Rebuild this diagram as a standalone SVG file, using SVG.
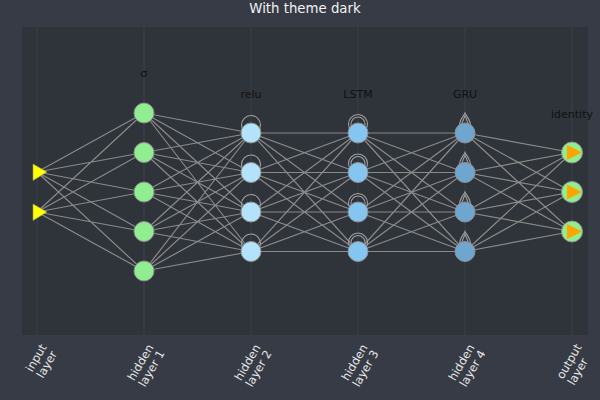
<svg xmlns="http://www.w3.org/2000/svg" xmlns:xlink="http://www.w3.org/1999/xlink" width="600" height="400" viewBox="0 0 600 400">
<style>
.t{font-family:"DejaVu Sans",sans-serif;}
.title{font-size:13.3px;fill:#f2f2f2;text-anchor:middle;}
.lbl{font-size:11px;fill:#111;text-anchor:middle;}
.tick{font-size:11.5px;fill:#e8e8e8;}
.grid{stroke:#3c4048;stroke-width:1;}
.edge{stroke:#8a8a8a;stroke-width:1.2;fill:none;}
.loop{stroke:#a0a0a0;stroke-width:1.1;fill:none;}
.n{stroke:#8f8f8f;stroke-width:1;}
.h1{fill:#90ee90;}
.h2{fill:#b3e2fb;}
.h3{fill:#84c5f2;}
.h4{fill:#6fa6d0;}
.out{fill:#90ee90;}
.tri-in{fill:#ffff00;stroke:#9a9a60;stroke-width:0.6;}
.tri-out{fill:#ffa500;}
</style>
<defs>
<circle id="reluLoop" cx="0" cy="-8" r="9.5"/>
<g id="lstmLoop"><circle cx="0" cy="-9" r="9.5"/><circle cx="0" cy="-9" r="7"/></g>
<g id="gruLoop"><path d="M-6,-4 C-6,-14 -1.5,-16.5 0,-20 C1.5,-16.5 6,-14 6,-4"/><path d="M-3.8,-4 C-3.8,-11.5 -1,-14 0,-17.3 C1,-14 3.8,-11.5 3.8,-4"/></g>
<polygon id="triIn" points="-4,-8 -4,8.5 10,0"/>
<polygon id="triOut" points="-5,-7.5 -5,7.5 10,0"/>
</defs>
<rect x="0" y="0" width="600" height="400" fill="#363b45"/>
<rect x="22" y="27" width="566" height="308" fill="#2f333a"/>
<g id="grid">
<line class="grid" x1="37" y1="27" x2="37" y2="335"/>
<line class="grid" x1="144" y1="27" x2="144" y2="335"/>
<line class="grid" x1="251" y1="27" x2="251" y2="335"/>
<line class="grid" x1="358" y1="27" x2="358" y2="335"/>
<line class="grid" x1="465" y1="27" x2="465" y2="335"/>
<line class="grid" x1="572" y1="27" x2="572" y2="335"/>
</g>
<text class="t title" x="305" y="13">With theme dark</text>
<g id="connectors">
<path class="edge" d="M37 172L144 113M37 172L144 152.5M37 172L144 192M37 172L144 231.5M37 172L144 271M37 212L144 113M37 212L144 152.5M37 212L144 192M37 212L144 231.5M37 212L144 271"/>
<path class="edge" d="M144 113L251 133M144 113L251 172.5M144 113L251 212M144 113L251 251.5M144 152.5L251 133M144 152.5L251 172.5M144 152.5L251 212M144 152.5L251 251.5M144 192L251 133M144 192L251 172.5M144 192L251 212M144 192L251 251.5M144 231.5L251 133M144 231.5L251 172.5M144 231.5L251 212M144 231.5L251 251.5M144 271L251 133M144 271L251 172.5M144 271L251 212M144 271L251 251.5"/>
<path class="edge" d="M251 133L358 133M251 133L358 172.5M251 133L358 212M251 133L358 251.5M251 172.5L358 133M251 172.5L358 172.5M251 172.5L358 212M251 172.5L358 251.5M251 212L358 133M251 212L358 172.5M251 212L358 212M251 212L358 251.5M251 251.5L358 133M251 251.5L358 172.5M251 251.5L358 212M251 251.5L358 251.5"/>
<path class="edge" d="M358 133L465 133M358 133L465 172.5M358 133L465 212M358 133L465 251.5M358 172.5L465 133M358 172.5L465 172.5M358 172.5L465 212M358 172.5L465 251.5M358 212L465 133M358 212L465 172.5M358 212L465 212M358 212L465 251.5M358 251.5L465 133M358 251.5L465 172.5M358 251.5L465 212M358 251.5L465 251.5"/>
<path class="edge" d="M465 133L572 152.5M465 133L572 192M465 133L572 231.5M465 172.5L572 152.5M465 172.5L572 192M465 172.5L572 231.5M465 212L572 152.5M465 212L572 192M465 212L572 231.5M465 251.5L572 152.5M465 251.5L572 192M465 251.5L572 231.5"/>
<g class="loop">
<use xlink:href="#reluLoop" href="#reluLoop" x="251" y="133"/>
<use xlink:href="#reluLoop" href="#reluLoop" x="251" y="172.5"/>
<use xlink:href="#reluLoop" href="#reluLoop" x="251" y="212"/>
<use xlink:href="#reluLoop" href="#reluLoop" x="251" y="251.5"/>
<use xlink:href="#lstmLoop" href="#lstmLoop" x="358" y="133"/>
<use xlink:href="#lstmLoop" href="#lstmLoop" x="358" y="172.5"/>
<use xlink:href="#lstmLoop" href="#lstmLoop" x="358" y="212"/>
<use xlink:href="#lstmLoop" href="#lstmLoop" x="358" y="251.5"/>
<use xlink:href="#gruLoop" href="#gruLoop" x="465" y="133"/>
<use xlink:href="#gruLoop" href="#gruLoop" x="465" y="172.5"/>
<use xlink:href="#gruLoop" href="#gruLoop" x="465" y="212"/>
<use xlink:href="#gruLoop" href="#gruLoop" x="465" y="251.5"/>
</g>
</g>
<g id="input-layer">
<use class="tri-in" xlink:href="#triIn" href="#triIn" x="37" y="172"/>
<use class="tri-in" xlink:href="#triIn" href="#triIn" x="37" y="212"/>
</g>
<g id="hidden-layer-1">
<circle class="n h1" cx="144" cy="113" r="10"/>
<circle class="n h1" cx="144" cy="152.5" r="10"/>
<circle class="n h1" cx="144" cy="192" r="10"/>
<circle class="n h1" cx="144" cy="231.5" r="10"/>
<circle class="n h1" cx="144" cy="271" r="10"/>
<text class="t lbl" x="144" y="77">σ</text>
</g>
<g id="hidden-layer-2">
<circle class="n h2" cx="251" cy="133" r="10"/>
<circle class="n h2" cx="251" cy="172.5" r="10"/>
<circle class="n h2" cx="251" cy="212" r="10"/>
<circle class="n h2" cx="251" cy="251.5" r="10"/>
<text class="t lbl" x="251" y="98">relu</text>
</g>
<g id="hidden-layer-3">
<circle class="n h3" cx="358" cy="133" r="10"/>
<circle class="n h3" cx="358" cy="172.5" r="10"/>
<circle class="n h3" cx="358" cy="212" r="10"/>
<circle class="n h3" cx="358" cy="251.5" r="10"/>
<text class="t lbl" x="358" y="98">LSTM</text>
</g>
<g id="hidden-layer-4">
<circle class="n h4" cx="465" cy="133" r="10"/>
<circle class="n h4" cx="465" cy="172.5" r="10"/>
<circle class="n h4" cx="465" cy="212" r="10"/>
<circle class="n h4" cx="465" cy="251.5" r="10"/>
<text class="t lbl" x="465" y="98">GRU</text>
</g>
<g id="output-layer">
<circle class="n out" cx="572" cy="152.5" r="10.5"/>
<circle class="n out" cx="572" cy="192" r="10.5"/>
<circle class="n out" cx="572" cy="231.5" r="10.5"/>
<use class="tri-out" xlink:href="#triOut" href="#triOut" x="572" y="152.5"/>
<use class="tri-out" xlink:href="#triOut" href="#triOut" x="572" y="192"/>
<use class="tri-out" xlink:href="#triOut" href="#triOut" x="572" y="231.5"/>
<text class="t lbl" x="572" y="118">identity</text>
</g>
<g id="x-ticks" class="t tick">
<g transform="translate(47,347) rotate(-60)"><text x="-29.6" y="0">input</text><text x="-29.6" y="12.5">layer</text></g>
<g transform="translate(154,347) rotate(-60)"><text x="-39.8" y="0">hidden</text><text x="-39.8" y="12.5">layer 1</text></g>
<g transform="translate(261,347) rotate(-60)"><text x="-39.8" y="0">hidden</text><text x="-39.8" y="12.5">layer 2</text></g>
<g transform="translate(368,347) rotate(-60)"><text x="-39.8" y="0">hidden</text><text x="-39.8" y="12.5">layer 3</text></g>
<g transform="translate(475,347) rotate(-60)"><text x="-39.8" y="0">hidden</text><text x="-39.8" y="12.5">layer 4</text></g>
<g transform="translate(582,347) rotate(-60)"><text x="-37.9" y="0">output</text><text x="-37.9" y="12.5">layer</text></g>
</g>
</svg>
